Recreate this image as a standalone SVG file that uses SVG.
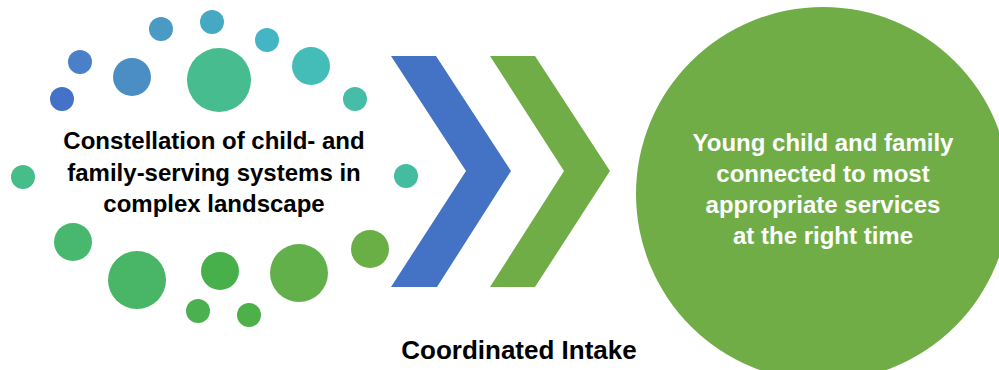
<svg xmlns="http://www.w3.org/2000/svg" width="999" height="370" viewBox="0 0 999 370">
<style>
.t{font-family:"Liberation Sans",Arial,sans-serif;font-weight:bold;font-size:24px;text-anchor:middle}
.dk{fill:#000}
.wt{fill:#fff}
</style>
<rect width="999" height="370" fill="#fff"/>
<g id="dots">
<circle cx="161" cy="29" r="12" fill="#4A9BC4"/>
<circle cx="212" cy="22" r="12" fill="#45A9C4"/>
<circle cx="267" cy="40" r="12" fill="#44B5C4"/>
<circle cx="80" cy="62" r="12" fill="#4A80C8"/>
<circle cx="132" cy="77" r="19" fill="#4A8EC4"/>
<circle cx="219" cy="80" r="32" fill="#47BC8E"/>
<circle cx="311" cy="66" r="19" fill="#44BDB8"/>
<circle cx="62" cy="99" r="12" fill="#4472C8"/>
<circle cx="355" cy="99" r="12" fill="#47BDA8"/>
<circle cx="23" cy="177" r="12" fill="#47BD8A"/>
<circle cx="406" cy="176" r="12" fill="#44BCA0"/>
<circle cx="73" cy="242" r="19" fill="#47B86E"/>
<circle cx="137" cy="280" r="29" fill="#48B666"/>
<circle cx="220" cy="271" r="19" fill="#47B04A"/>
<circle cx="299" cy="273" r="29" fill="#62B04A"/>
<circle cx="370" cy="249" r="19" fill="#6AAF46"/>
<circle cx="198" cy="311" r="12" fill="#4AB050"/>
<circle cx="249" cy="315" r="12" fill="#4DB048"/>
</g>
<g id="constellation">
<text class="t dk" x="214" y="149">Constellation of child- and</text>
<text class="t dk" x="214" y="181">family-serving systems in</text>
<text class="t dk" x="214" y="212">complex landscape</text>
</g>
<g id="connectors">
<polygon id="chevron-blue" points="391,56 436,56 511,171 437,287 391,287 466,171" fill="#4472C4"/>
<polygon id="chevron-green" points="490,56 535,56 610,171 535,287 490,287 564,171" fill="#70AD47"/>
</g>
<g id="intake">
<text class="t dk" x="519" y="359" style="font-size:26px">Coordinated Intake</text>
</g>
<g id="outcome">
<circle cx="823" cy="194" r="187" fill="#70AD47"/>
<text class="t wt" x="823" y="151">Young child and family</text>
<text class="t wt" x="823" y="182">connected to most</text>
<text class="t wt" x="823" y="213">appropriate services</text>
<text class="t wt" x="823" y="244">at the right time</text>
</g>
</svg>
